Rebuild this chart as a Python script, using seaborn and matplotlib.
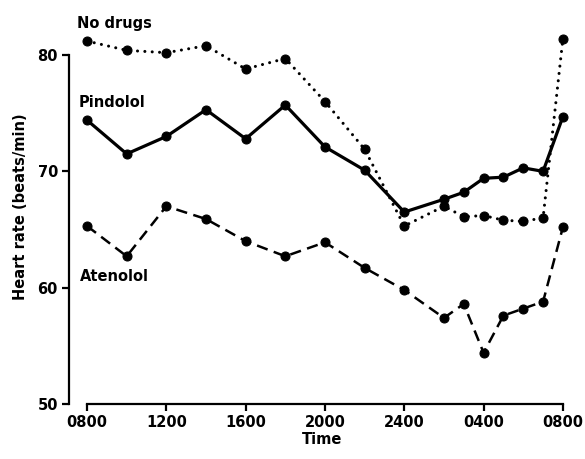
import matplotlib

matplotlib.use("Agg")
import matplotlib.pyplot as plt
import pandas as pd
import seaborn as sns

# hours after 0800 on day 1
hours = [0, 2, 4, 6, 8, 10, 12, 14, 16, 18, 19, 20, 21, 22, 23, 24]
no_drugs = [81.2, 80.4, 80.2, 80.8, 78.8, 79.7, 76.0, 71.9, 65.3, 67.0, 66.1, 66.2, 65.8, 65.7, 66.0, 81.4]
pindolol = [74.4, 71.5, 73.0, 75.3, 72.8, 75.7, 72.1, 70.1, 66.5, 67.6, 68.2, 69.4, 69.5, 70.3, 70.0, 74.7]
atenolol = [65.3, 62.7, 67.0, 65.9, 64.0, 62.7, 63.9, 61.7, 59.8, 57.4, 58.6, 54.4, 57.6, 58.2, 58.8, 65.2]

tick_hours = [0, 4, 8, 12, 16, 20, 24]
tick_labels = ["0800", "1200", "1600", "2000", "2400", "0400", "0800"]
y_ticks = [50, 60, 70, 80]

sns.set_style("ticks")
plt.rcParams["font.family"] = ["DejaVu Sans"]
plt.rcParams["text.color"] = "black"
plt.rcParams["axes.labelcolor"] = "black"
plt.rcParams["xtick.color"] = "black"
plt.rcParams["ytick.color"] = "black"
plt.rcParams["axes.edgecolor"] = "black"

fig = plt.figure(figsize=(5.85, 4.59), dpi=100)
ax = fig.add_axes([69 / 585, 1 - 404 / 459, (575 - 69) / 585, (404 - 10) / 459])

df = pd.DataFrame({"hour": hours, "none": no_drugs, "pin": pindolol, "ate": atenolol})
common = dict(marker="o", markersize=6.5, color="black", markeredgecolor="black", ax=ax)
sns.lineplot(data=df, x="hour", y="none", linewidth=2.2,
             linestyle=(0, (0.01, 2.4)), dash_capstyle="round", **common)
sns.lineplot(data=df, x="hour", y="pin", linewidth=2.3, **common)
sns.lineplot(data=df, x="hour", y="ate", linewidth=1.8, linestyle=(0, (4.5, 2.6)), **common)

ax.set_xlim(-0.91, 24.61)
ax.set_ylim(50, 83.87)
ax.spines[["top", "right"]].set_visible(False)
ax.spines["left"].set_bounds(50, 80)
ax.spines["bottom"].set_bounds(0, 24)
for side in ("left", "bottom"):
    ax.spines[side].set_linewidth(1.6)
ax.set_xticks(tick_hours)
ax.set_xticklabels(tick_labels)
ax.set_yticks(y_ticks)
ax.tick_params(width=1.6, length=5, labelsize=10.5, pad=3)
for lab in ax.get_xticklabels() + ax.get_yticklabels():
    lab.set_fontweight("bold")

ax.set_xlabel("Time", fontsize=10.5, fontweight="bold", labelpad=1)
ax.set_ylabel("Heart rate (beats/min)", fontsize=10.5, fontweight="bold", labelpad=7)

ax.text(-0.5, 82.75, "No drugs", fontsize=10.5, fontweight="bold", va="center")
ax.text(-0.4, 75.9, "Pindolol", fontsize=10.5, fontweight="bold", va="center")
ax.text(-0.35, 61.0, "Atenolol", fontsize=10.5, fontweight="bold", va="center")

fig.savefig("out.png", dpi=100)
